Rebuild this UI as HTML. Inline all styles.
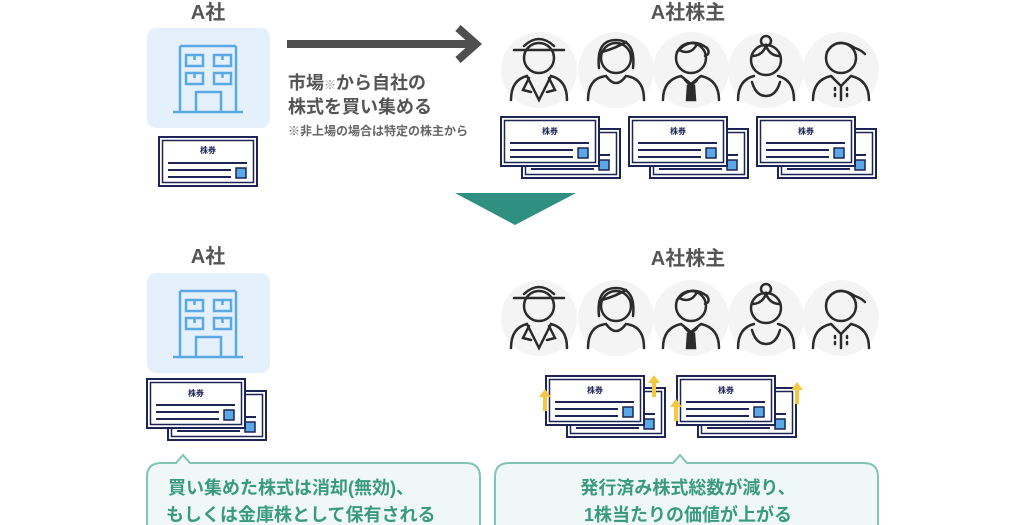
<!DOCTYPE html>
<html><head><meta charset="utf-8"><style>
html,body{margin:0;padding:0;background:#fff;}
svg{display:block;}
text{font-family:"Liberation Sans","Noto Sans CJK JP",sans-serif;font-weight:bold;}
.lb{font-size:8px;fill:#1d2456;text-anchor:middle;}
</style></head><body>
<svg width="1024" height="525" viewBox="0 0 1024 525" xmlns="http://www.w3.org/2000/svg">
<defs>
<g id="bld">
  <rect x="0" y="0" width="123" height="100" rx="9" fill="#e4f1fc"/>
  <g fill="none" stroke="#5aa9e6" stroke-width="2.5">
    <path d="M33 18 H89 M33 18 V84 M89 18 V84 M26 84 H96"/>
    <rect x="39" y="27" width="17" height="11"/><path d="M47.5 27 V32"/>
    <rect x="67" y="27" width="17" height="11"/><path d="M75.5 27 V32"/>
    <rect x="39" y="45" width="17" height="11"/><path d="M47.5 45 V50"/>
    <rect x="67" y="45" width="17" height="11"/><path d="M75.5 45 V50"/>
    <path d="M49 84 V64 H74 V84"/>
  </g>
</g>
<g id="card">
  <rect x="0" y="0" width="98" height="49" fill="#fff" stroke="#1d2456" stroke-width="2"/>
  <rect x="3.5" y="3.5" width="91" height="42" fill="#fff" stroke="#1d2456" stroke-width="1.5"/>
  <path d="M9 26 H88 M9 33 H72 M9 40 H72" stroke="#1d2456" stroke-width="2"/>
  <rect x="77" y="31" width="10" height="10" fill="#5aa9e6" stroke="#1d2456" stroke-width="1.5"/>
</g>
<g id="pair">
  <use href="#card" x="21" y="12"/>
  <use href="#card" x="0" y="0"/>
</g>
<g id="bg"><circle r="38" fill="#f4f4f4"/></g>
<g id="p1" fill="none" stroke="#2b2b2b" stroke-width="2.5" stroke-linecap="round">
  <circle cx="0" cy="-12" r="15"/><path d="M-25 -20 H25 M-15 -24 Q0 -38 15 -24"/>
  <path d="M-28 30 Q-28 10 -12 6 L0 30 L12 6 Q28 10 28 30 M-10 8 L-16 20 L-8 22 M10 8 L16 20 L8 22"/>
</g>
<g id="p2" fill="none" stroke="#2b2b2b" stroke-width="2.5" stroke-linecap="round">
  <circle cx="0" cy="-12" r="15"/><path d="M-17 -2 Q-20 -30 0 -30 Q20 -30 17 -2 M-14 -18 Q0 -22 10 -28"/>
  <path d="M-28 30 Q-28 8 -10 6 Q0 20 10 6 Q28 8 28 30"/>
</g>
<g id="p3" fill="none" stroke="#2b2b2b" stroke-width="2.5" stroke-linecap="round">
  <circle cx="0" cy="-12" r="15"/><path d="M-14 -18 Q0 -34 16 -22 Q20 -16 14 -14 M-12 -20 Q0 -14 6 -26"/>
  <path d="M-28 30 Q-28 10 -10 6 L0 14 L10 6 Q28 10 28 30 M-6 10 L0 16 L6 10"/>
  <path d="M-3 16 L3 16 L4 30 L-4 30 Z" fill="#2b2b2b"/>
</g>
<g id="p4" fill="none" stroke="#2b2b2b" stroke-width="2.5" stroke-linecap="round">
  <circle cx="0" cy="-10" r="15"/><circle cx="0" cy="-29" r="5"/><path d="M-14 -14 Q-4 -14 0 -24 Q4 -14 14 -14"/>
  <path d="M-28 30 Q-28 10 -12 6 M12 6 Q28 10 28 30 M-14 12 Q-10 26 0 26 Q10 26 14 12"/>
</g>
<g id="p5" fill="none" stroke="#2b2b2b" stroke-width="2.5" stroke-linecap="round">
  <circle cx="0" cy="-12" r="15"/><path d="M-14 -18 Q-4 -34 14 -22 Q20 -20 24 -16"/>
  <path d="M-28 30 Q-28 10 -10 6 L0 16 L10 6 Q28 10 28 30 M0 16 V30" /><path d="M-6 18 V30 M6 18 V30" stroke-dasharray="2 4"/>
</g>
<g id="people">
  <use href="#bg" x="0"/><use href="#bg" x="77"/><use href="#bg" x="152"/><use href="#bg" x="227"/><use href="#bg" x="302"/>
  <use href="#p1" x="0"/><use href="#p2" x="77"/><use href="#p3" x="152"/><use href="#p4" x="227"/><use href="#p5" x="302"/>
</g>
<g id="yarr"><path d="M0 0 L-6 8 H-2 V22 H2 V8 H6 Z" fill="#f5c842"/></g>
</defs>

<!-- TOP -->
<text x="208" y="19" font-size="20" fill="#555" text-anchor="middle">A社</text>
<use href="#bld" x="147" y="28"/>
<use href="#card" x="159" y="137"/>
<text class="lb" x="208" y="153">株券</text>
<path d="M287 44 H470" stroke="#4f4f4f" stroke-width="8"/>
<path d="M458 28 L476 44 L458 60" fill="none" stroke="#4f4f4f" stroke-width="8"/>
<text x="288" y="89" font-size="18" fill="#555">市場<tspan font-size="12" fill="#999">※</tspan>から自社の</text>
<text x="288" y="113" font-size="18" fill="#555">株式を買い集める</text>
<text x="288" y="135" font-size="12" fill="#666" font-weight="normal">※非上場の場合は特定の株主から</text>

<text x="688" y="19" font-size="20" fill="#555" text-anchor="middle">A社株主</text>
<use href="#people" x="539" y="70"/>
<use href="#pair" x="501" y="117"/>
<use href="#pair" x="629" y="117"/>
<use href="#pair" x="757" y="117"/>
<text class="lb" x="550" y="134">株券</text>
<text class="lb" x="678" y="134">株券</text>
<text class="lb" x="806" y="134">株券</text>

<path d="M455 193 H576 L515 225 Z" fill="#2f8f80"/>

<!-- BOTTOM -->
<text x="208" y="263" font-size="20" fill="#555" text-anchor="middle">A社</text>
<use href="#bld" x="147" y="273"/>
<use href="#pair" x="147" y="379"/>
<text class="lb" x="196" y="396">株券</text>

<text x="688" y="265" font-size="20" fill="#555" text-anchor="middle">A社株主</text>
<use href="#people" x="539" y="318"/>
<use href="#pair" x="546" y="376"/>
<use href="#pair" x="677" y="376"/>
<text class="lb" x="595" y="393">株券</text>
<text class="lb" x="726" y="393">株券</text>
<use href="#yarr" x="545" y="389"/>
<use href="#yarr" x="654" y="375"/>
<use href="#yarr" x="676" y="399"/>
<use href="#yarr" x="797" y="382"/>

<path d="M161 463 H176 L183 455 L190 463 H466 Q480 463 480 477 V530 H147 V477 Q147 463 161 463 Z" fill="#eff8f6" stroke="#80c4b6" stroke-width="2"/>
<text x="168" y="494" font-size="18" fill="#3a9a80">買い集めた株式は消却(無効)、</text>
<text x="166" y="521" font-size="18" fill="#3a9a80">もしくは金庫株として保有される</text>

<path d="M509 463 H673 L680 455 L687 463 H864 Q878 463 878 477 V530 H495 V477 Q495 463 509 463 Z" fill="#eff8f6" stroke="#80c4b6" stroke-width="2"/>
<text x="688" y="494" font-size="18" fill="#3a9a80" text-anchor="middle">発行済み株式総数が減り、</text>
<text x="688" y="521" font-size="18" fill="#3a9a80" text-anchor="middle">1株当たりの価値が上がる</text>
</svg>
</body></html>
